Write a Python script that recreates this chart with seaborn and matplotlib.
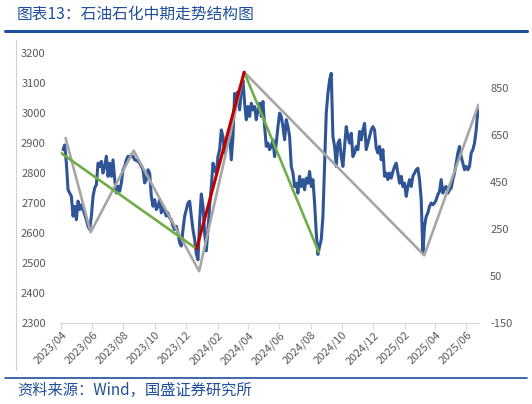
import pandas as pd
import matplotlib
matplotlib.use("Agg")
import matplotlib.pyplot as plt
import matplotlib.dates as mdates
from matplotlib.lines import Line2D
import seaborn as sns

# 石油石化 index at equal time steps
start_date = "2023-04-05"
end_date = "2025-06-27"
index_values = [
    2878, 2894, 2833, 2744, 2733, 2722, 2656, 2689, 2644, 2706,
    2678, 2694, 2678, 2661, 2644, 2622, 2611, 2656, 2722, 2750,
    2761, 2833, 2822, 2839, 2800, 2822, 2856, 2789, 2833, 2789,
    2844, 2778, 2733, 2756, 2739, 2767, 2811, 2822, 2844, 2856,
    2850, 2861, 2856, 2844, 2842, 2839, 2833, 2822, 2811, 2767,
    2778, 2811, 2800, 2722, 2689, 2711, 2678, 2689, 2711, 2667,
    2689, 2672, 2656, 2667, 2650, 2644, 2622, 2611, 2622, 2600,
    2567, 2556, 2611, 2656, 2678, 2700, 2706, 2656, 2611, 2578,
    2530, 2510, 2640, 2730, 2690, 2600, 2540,
    2611, 2689, 2755, 2833, 2811, 2800, 2855, 2878, 2944, 2922,
    2867, 2900, 2911, 2933, 2844, 2922, 3066, 3044, 3072, 3011,
    3078, 3111, 3033, 2978, 3022, 2989, 3033, 3011, 3022, 2978,
    3011, 3033, 2989, 3039, 2955, 2889, 2900, 2878, 2889, 2911,
    2855, 2900, 2955, 3000, 2989, 2955, 2911, 2978, 2955, 2922,
    2822, 2800, 2755, 2766, 2733, 2789, 2755, 2778, 2744, 2783,
    2766, 2805, 2755, 2778, 2700, 2600, 2528,
    2555,
    2578, 2655, 2822, 3000, 3066, 3111, 3133, 2922, 2889, 2822,
    2900, 2911, 2855, 2822, 2889, 2955, 2922, 2900, 2933, 2855,
    2867, 2889, 2878, 2939, 2911, 2944, 2966, 2878, 2900, 2922,
    2944, 2955, 2944, 2883, 2867, 2889, 2844, 2878, 2789, 2800,
    2778, 2800, 2783, 2805, 2822, 2833, 2800, 2766, 2789, 2755,
    2766, 2722, 2755, 2778, 2755, 2789, 2800, 2811, 2816, 2778,
    2711, 2533, 2622, 2655, 2667, 2689, 2700, 2694, 2700, 2711,
    2728, 2739, 2778, 2733, 2750, 2755, 2733, 2744, 2750, 2778,
    2800, 2833, 2867, 2889, 2855, 2833, 2811, 2822, 2811, 2822,
    2867, 2878, 2900, 2944, 3011, 2990,
]

# zig-zag structure (gray)
zigzag_dates = ["2023-04-10", "2023-05-29", "2023-08-21", "2023-12-27",
                "2024-03-24", "2025-03-11", "2025-06-25"]
zigzag_values = [2917, 2602, 2875, 2472, 3137, 2525, 3028]

# down trends (green) and up trend (red)
down1_dates = ["2023-04-01", "2023-12-22"]
down1_values = [2867, 2547]
up_dates = ["2023-12-22", "2024-03-24"]
up_values = [2547, 3137]
down2_dates = ["2024-03-24", "2024-08-17"]
down2_values = [3137, 2535]

left_ticks = [2300, 2400, 2500, 2600, 2700, 2800, 2900, 3000, 3100, 3200]
right_ticks = [-150, 50, 250, 450, 650, 850]

sns.set_theme(style="white")
plt.rcParams["font.family"] = ["Noto Sans CJK SC", "DejaVu Sans"]
plt.rcParams["axes.unicode_minus"] = False

df = pd.DataFrame({
    "date": pd.date_range(start_date, end_date, periods=len(index_values)),
    "value": index_values,
})
zz = pd.DataFrame({"date": pd.to_datetime(zigzag_dates), "value": zigzag_values})
d1 = pd.DataFrame({"date": pd.to_datetime(down1_dates), "value": down1_values})
up = pd.DataFrame({"date": pd.to_datetime(up_dates), "value": up_values})
d2 = pd.DataFrame({"date": pd.to_datetime(down2_dates), "value": down2_values})

fig = plt.figure(figsize=(5.32, 4.04), dpi=100)
ax = fig.add_axes([61 / 532, 1 - 322.7 / 404, 418 / 532, 269.4 / 404])

sns.lineplot(data=df, x="date", y="value", ax=ax, color="#2f5597", linewidth=2.2, zorder=2)
sns.lineplot(data=zz, x="date", y="value", ax=ax, color="#a6a6a6", linewidth=1.9, zorder=3)
sns.lineplot(data=d1, x="date", y="value", ax=ax, color="#70ad47", linewidth=1.9, zorder=4)
sns.lineplot(data=d2, x="date", y="value", ax=ax, color="#70ad47", linewidth=1.9, zorder=4)
sns.lineplot(data=up, x="date", y="value", ax=ax, color="#c00000", linewidth=2.2, zorder=5)

ax.set_xlim(pd.Timestamp("2023-04-01"), pd.Timestamp("2025-06-26"))
ax.set_ylim(2300, 3200)
ax.set_yticks(left_ticks)
ax.set_xlabel("")
ax.set_ylabel("")
ax.xaxis.set_major_locator(mdates.MonthLocator(bymonth=[2, 4, 6, 8, 10, 12]))
ax.xaxis.set_major_formatter(mdates.DateFormatter("%Y/%m"))
for s in ["top", "right", "left"]:
    ax.spines[s].set_visible(False)
ax.spines["bottom"].set_color("#d9d9d9")
ax.spines["bottom"].set_linewidth(1.0)
ax.tick_params(axis="y", length=0, pad=11, labelsize=8, labelcolor="#595959")
ax.tick_params(axis="x", length=4, width=0.8, color="#d9d9d9", direction="out",
               bottom=True, pad=1, labelsize=8, labelcolor="#595959")
plt.setp(ax.get_xticklabels(), rotation=45, ha="right", rotation_mode="anchor")

ax2 = ax.twinx()
ax2.set_ylim(-150, 1000)
ax2.set_yticks(right_ticks)
for s in ax2.spines.values():
    s.set_visible(False)
ax2.tick_params(axis="y", length=0, pad=8, labelsize=8, labelcolor="#595959")
ax2.grid(False)

# header, footer and frame
fig.text(17 / 532, 1 - 14 / 404, "图表13：石油石化中期走势结构图", fontsize=11.3,
         color="#1f4e9a", style="italic", va="center", ha="left")
fig.add_artist(Line2D([5 / 532, 527 / 532], [1 - 31 / 404] * 2, color="#1f4e9a", lw=2.2))
fig.add_artist(Line2D([15.7 / 532] * 2, [1 - 40 / 404, 1 - 370 / 404], color="#d0d0d0", lw=0.8))
fig.add_artist(Line2D([5 / 532, 527 / 532], [1 - 378 / 404] * 2, color="#1f4e9a", lw=1.2))
fig.text(17 / 532, 1 - 390 / 404, "资料来源：Wind，国盛证券研究所", fontsize=11,
         color="#1f4e9a", style="italic", va="center", ha="left")

fig.savefig("out.png", dpi=100)
